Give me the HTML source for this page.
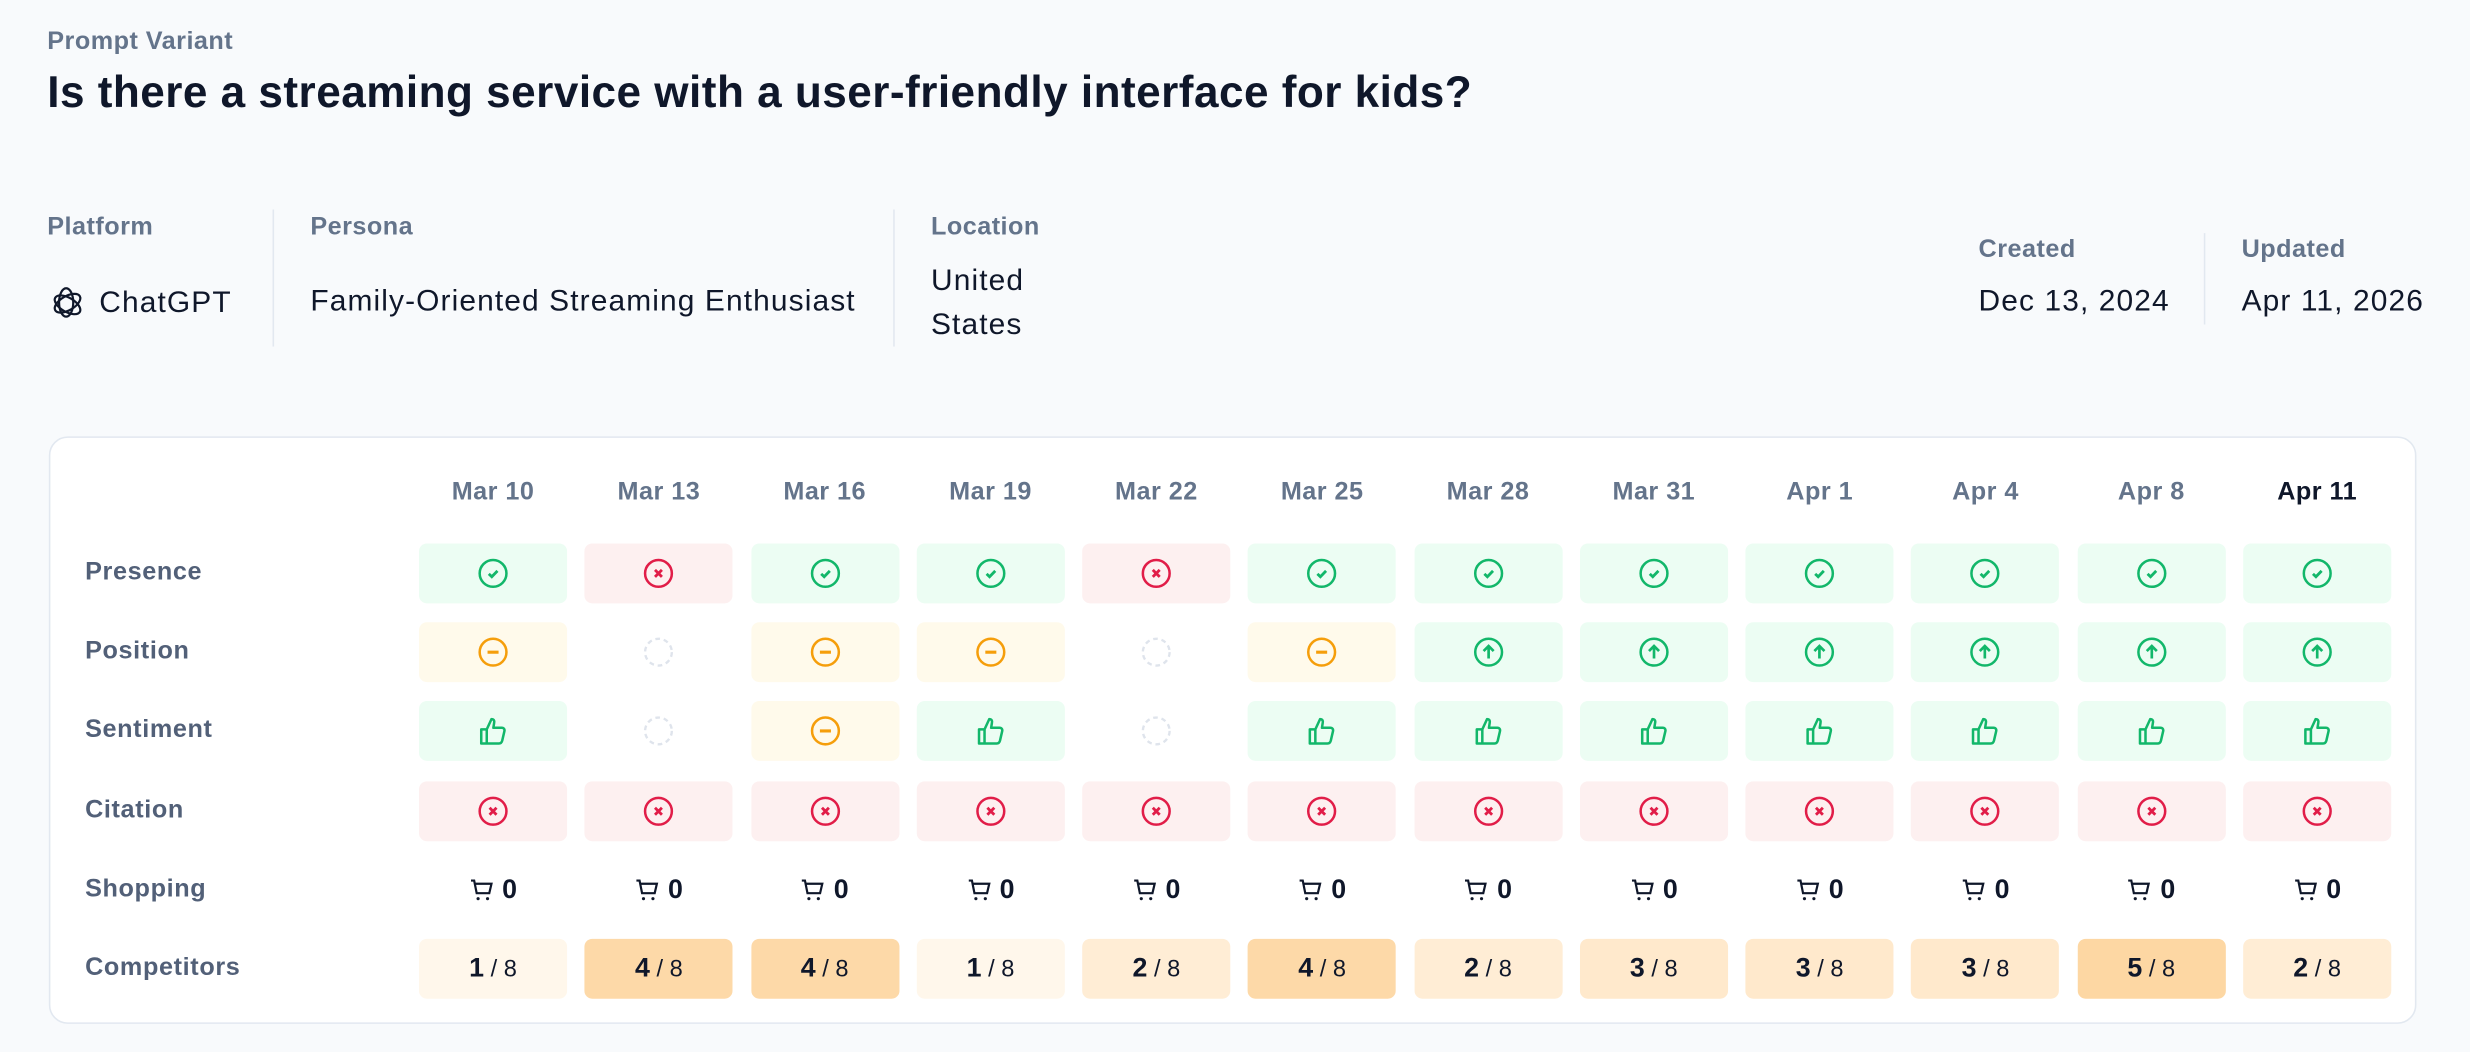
<!DOCTYPE html>
<html><head><meta charset="utf-8">
<style>
html,body{margin:0;padding:0;background:#f8fafc;}
body{width:2470px;height:1052px;overflow:hidden;font-family:"Liberation Sans",sans-serif;}
#stage{position:absolute;left:0;top:0;width:1568px;height:668px;transform:scale(1.57526);transform-origin:0 0;}
.abs{position:absolute;white-space:nowrap;}
.lbl{font-size:16px;color:#64748b;font-weight:bold;letter-spacing:0.3px;}
.val{font-size:19px;color:#0f172a;letter-spacing:0.7px;}
.div{position:absolute;width:1px;background:#e2e8f0;}
#card{position:absolute;left:31px;top:277px;width:1503px;height:373px;background:#fff;border:1.5px solid #e2e8f0;border-radius:12px;box-sizing:border-box;}
.hdr{position:absolute;font-size:16px;font-weight:bold;color:#64748b;text-align:center;width:94px;letter-spacing:0.3px;}
.rowl{position:absolute;left:54px;font-size:16px;font-weight:bold;color:#526078;letter-spacing:0.4px;}
.cell{position:absolute;width:94px;height:38px;border-radius:5px;display:flex;align-items:center;justify-content:center;}
.comp{font-size:15px;color:#0f172a;}
.comp b{font-size:17px;}
</style></head><body>
<div id="stage">
<div class="abs lbl" style="left:30px;top:18px;">Prompt Variant</div>
<div class="abs" style="left:30px;top:43px;font-size:28px;font-weight:bold;color:#0f172a;letter-spacing:0.3px;">Is there a streaming service with a user-friendly interface for kids?</div>

<div class="abs lbl" style="left:30px;top:136px;">Platform</div>
<div class="abs val" style="left:30px;top:181px;display:flex;align-items:center;">
<svg width="24" height="24" viewBox="0 0 24 24" fill="none" stroke="#0f172a" stroke-width="1.4" style="margin-right:9px"><g transform="translate(12 12)"><ellipse rx="4.5" ry="9" transform="rotate(0) translate(0 -1)"/><ellipse rx="4.5" ry="9" transform="rotate(60) translate(0 -1)"/><ellipse rx="4.5" ry="9" transform="rotate(120) translate(0 -1)"/></g></svg>ChatGPT</div>
<div class="div" style="left:173px;top:133px;height:87px"></div>
<div class="abs lbl" style="left:197px;top:136px;">Persona</div>
<div class="abs val" style="left:197px;top:181px;">Family-Oriented Streaming Enthusiast</div>
<div class="div" style="left:567px;top:133px;height:87px"></div>
<div class="abs lbl" style="left:591px;top:136px;">Location</div>
<div class="abs val" style="left:591px;top:165px;line-height:28px;">United<br>States</div>
<div class="abs lbl" style="left:1256px;top:150px;">Created</div>
<div class="abs val" style="left:1256px;top:181px;">Dec 13, 2024</div>
<div class="div" style="left:1399px;top:148px;height:58px"></div>
<div class="abs lbl" style="left:1423px;top:150px;">Updated</div>
<div class="abs val" style="left:1423px;top:181px;">Apr 11, 2026</div>

<div id="card"></div>
<div id="grid"></div>
</div>
<script>
const dates=["Mar 10","Mar 13","Mar 16","Mar 19","Mar 22","Mar 25","Mar 28","Mar 31","Apr 1","Apr 4","Apr 8","Apr 11"];
const rowLabels=["Presence","Position","Sentiment","Citation","Shopping","Competitors"];
const presence=["yes","no","yes","yes","no","yes","yes","yes","yes","yes","yes","yes"];
const position=["mid","none","mid","mid","none","mid","up","up","up","up","up","up"];
const sentiment=["pos","none","mid","pos","none","pos","pos","pos","pos","pos","pos","pos"];
const citation=["no","no","no","no","no","no","no","no","no","no","no","no"];
const shopping=[0,0,0,0,0,0,0,0,0,0,0,0];
const competitors=[1,4,4,1,2,4,2,3,3,3,5,2];
const competitorTotal=8;

const G="#12b76a",R="#e11d48",O="#f59e0b";
const bg={yes:"#ecfdf3",up:"#ecfdf3",pos:"#ecfdf3",no:"#fdf0f0",mid:"#fffaeb",none:"transparent"};
const icons={
 yes:`<svg width="20" height="20" viewBox="0 0 20 20" fill="none" stroke="${G}" stroke-width="1.6"><circle cx="10" cy="10" r="8.5"/><path d="M7.3 10.3l1.9 1.8 3.6-3.7" stroke-width="1.8"/></svg>`,
 no:`<svg width="20" height="20" viewBox="0 0 20 20" fill="none" stroke="${R}" stroke-width="1.6"><circle cx="10" cy="10" r="8.5"/><path d="M7.8 7.8l4.4 4.4M12.2 7.8l-4.4 4.4" stroke-width="1.8"/></svg>`,
 mid:`<svg width="20" height="20" viewBox="0 0 20 20" fill="none" stroke="${O}" stroke-width="1.6"><circle cx="10" cy="10" r="8.5"/><path d="M6.5 10h7" stroke-width="2"/></svg>`,
 up:`<svg width="20" height="20" viewBox="0 0 20 20" fill="none" stroke="${G}" stroke-width="1.6"><circle cx="10" cy="10" r="8.5"/><path d="M10 14V6.3M6.8 9.3L10 6.1l3.2 3.2" stroke-width="1.7"/></svg>`,
 none:`<svg width="20" height="20" viewBox="0 0 20 20" fill="none" stroke="#dfe4ec" stroke-width="1.5" stroke-dasharray="3 2.4"><circle cx="10" cy="10" r="8.5"/></svg>`,
 pos:`<svg width="20" height="20" viewBox="0 0 20 20" fill="none" stroke="${G}" stroke-width="1.6" stroke-linejoin="round"><path d="M2.5 9h3.5v9H2.5zM6 9l3-6.5c1.4 0 2 1 1.7 2.3L10.2 8h5.3c1.3 0 2 1 1.7 2.2l-1.4 6c-.3 1.1-1 1.8-2.1 1.8H6"/></svg>`
};
const cart=`<svg width="16" height="16" viewBox="0 0 16 16" fill="none" stroke="#0f172a" stroke-width="1.4"><path d="M1 2h2l1.6 8h8l1.4-6H4"/><circle cx="5.5" cy="13.5" r="1" fill="#0f172a" stroke="none"/><circle cx="11.5" cy="13.5" r="1" fill="#0f172a" stroke="none"/></svg>`;
const compBg=["#fff","#fff7eb","#ffedd5","#ffe9cc","#fdd9a8","#fdd7a3","#fcd09a","#fbc884","#fac078"];

const colX=i=>266+i*105.27;
const rowY=r=>364+r*50.2;
const grid=document.getElementById('grid');
function add(html,cls,style){const d=document.createElement('div');d.className=cls;d.style.cssText=style;d.innerHTML=html;grid.appendChild(d);return d;}

dates.forEach((d,i)=>{
 const h=add(d,'hdr',`left:${colX(i)}px;top:304px;${i===dates.length-1?'color:#0f172a;':''}`);
 
 
});
rowLabels.forEach((l,r)=>{
 const e=add(l,'rowl',`top:${rowY(r)-9}px;`);
 
 
});
const statusRows=[presence,position,sentiment,citation];
const statusNames=["presence","position","sentiment","citation"];
statusRows.forEach((arr,r)=>{
 arr.forEach((v,i)=>{
  const c=add(icons[v],'cell',`left:${colX(i)}px;top:${rowY(r)-19}px;background:${bg[v]};`);
  
  
 });
});
shopping.forEach((v,i)=>{
 const c=add(`${cart}<b style="font-size:17px;color:#0f172a;margin-left:5px">${v}</b>`,'cell',`left:${colX(i)}px;top:${rowY(4)-19}px;`);
 
 
});
competitors.forEach((v,i)=>{
 const c=add(`<span class="comp"><b>${v}</b> / ${competitorTotal}</span>`,'cell',`left:${colX(i)}px;top:${rowY(5)-19}px;background:${compBg[Math.min(v,8)]};`);
 
 
});
</script>
</body></html>
